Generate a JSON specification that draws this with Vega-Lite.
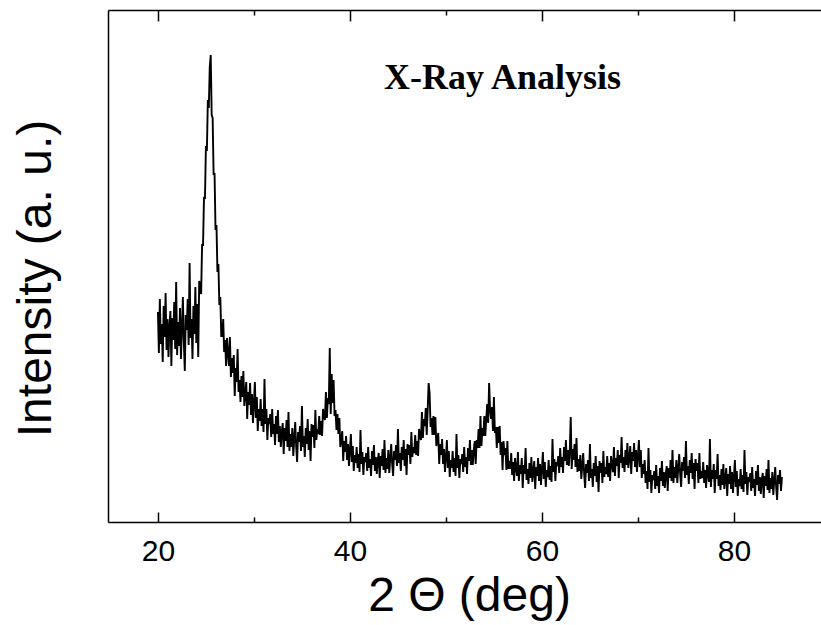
{
"$schema":"https://vega.github.io/schema/vega-lite/v6.json",
"autosize":{"type":"none"},
"padding":{"left":108,"top":10,"right":0,"bottom":103},
"width":713,"height":512,
"background":"white",
"config":{"view":{"stroke":null}},
"datasets":{
"xrd":[
{"x":20.0,"y":210},{"x":20.1,"y":169},{"x":20.2,"y":223},{"x":20.3,"y":178},{"x":20.4,"y":198},{"x":20.5,"y":160},{"x":20.6,"y":216},{"x":20.7,"y":185},{"x":20.8,"y":229},{"x":20.9,"y":172},
{"x":21.0,"y":203},{"x":21.1,"y":165},{"x":21.2,"y":195},{"x":21.3,"y":211},{"x":21.4,"y":156},{"x":21.5,"y":204},{"x":21.6,"y":182},{"x":21.7,"y":220},{"x":21.8,"y":173},{"x":21.9,"y":240},
{"x":22.0,"y":167},{"x":22.1,"y":200},{"x":22.2,"y":176},{"x":22.3,"y":214},{"x":22.4,"y":163},{"x":22.5,"y":194},{"x":22.6,"y":225},{"x":22.7,"y":180},{"x":22.8,"y":151},{"x":22.9,"y":207},
{"x":23.0,"y":192},{"x":23.1,"y":223},{"x":23.2,"y":177},{"x":23.3,"y":259},{"x":23.4,"y":184},{"x":23.5,"y":203},{"x":23.6,"y":163},{"x":23.7,"y":216},{"x":23.8,"y":188},{"x":23.9,"y":235},
{"x":24.0,"y":179},{"x":24.1,"y":218},{"x":24.2,"y":165},{"x":24.3,"y":241},{"x":24.4,"y":234},{"x":24.5,"y":228},{"x":24.6,"y":277},{"x":24.7,"y":277},{"x":24.8,"y":325},{"x":24.9,"y":323},
{"x":25.0,"y":376},{"x":25.1,"y":371},{"x":25.2,"y":422},{"x":25.3,"y":414},{"x":25.4,"y":455},{"x":25.5,"y":467},{"x":25.6,"y":407},{"x":25.7,"y":404},{"x":25.8,"y":348},{"x":25.9,"y":348},
{"x":26.0,"y":292},{"x":26.1,"y":297},{"x":26.2,"y":250},{"x":26.3,"y":258},{"x":26.4,"y":217},{"x":26.5,"y":225},{"x":26.6,"y":186},{"x":26.7,"y":186},{"x":26.8,"y":203},{"x":26.9,"y":170},
{"x":27.0,"y":182},{"x":27.1,"y":156},{"x":27.2,"y":184},{"x":27.3,"y":169},{"x":27.4,"y":156},{"x":27.5,"y":185},{"x":27.6,"y":145},{"x":27.7,"y":164},{"x":27.8,"y":149},{"x":27.9,"y":167},
{"x":28.0,"y":126},{"x":28.1,"y":154},{"x":28.2,"y":140},{"x":28.3,"y":173},{"x":28.4,"y":130},{"x":28.5,"y":142},{"x":28.6,"y":120},{"x":28.7,"y":146},{"x":28.8,"y":125},{"x":28.9,"y":151},
{"x":29.0,"y":116},{"x":29.1,"y":128},{"x":29.2,"y":140},{"x":29.3,"y":103},{"x":29.4,"y":130},{"x":29.5,"y":117},{"x":29.6,"y":139},{"x":29.7,"y":107},{"x":29.8,"y":128},{"x":29.9,"y":99},
{"x":30.0,"y":119},{"x":30.1,"y":140},{"x":30.2,"y":104},{"x":30.3,"y":125},{"x":30.4,"y":91},{"x":30.5,"y":113},{"x":30.6,"y":101},{"x":30.7,"y":123},{"x":30.8,"y":96},{"x":30.9,"y":113},
{"x":31.0,"y":90},{"x":31.1,"y":143},{"x":31.2,"y":98},{"x":31.3,"y":113},{"x":31.4,"y":82},{"x":31.5,"y":104},{"x":31.6,"y":98},{"x":31.7,"y":108},{"x":31.8,"y":85},{"x":31.9,"y":113},
{"x":32.0,"y":88},{"x":32.1,"y":98},{"x":32.2,"y":77},{"x":32.3,"y":106},{"x":32.4,"y":88},{"x":32.5,"y":112},{"x":32.6,"y":80},{"x":32.7,"y":96},{"x":32.8,"y":75},{"x":32.9,"y":91},
{"x":33.0,"y":99},{"x":33.1,"y":68},{"x":33.2,"y":94},{"x":33.3,"y":81},{"x":33.4,"y":102},{"x":33.5,"y":75},{"x":33.6,"y":110},{"x":33.7,"y":71},{"x":33.8,"y":88},{"x":33.9,"y":75},
{"x":34.0,"y":94},{"x":34.1,"y":66},{"x":34.2,"y":83},{"x":34.3,"y":100},{"x":34.4,"y":76},{"x":34.5,"y":60},{"x":34.6,"y":90},{"x":34.7,"y":80},{"x":34.8,"y":96},{"x":34.9,"y":71},
{"x":35.0,"y":116},{"x":35.1,"y":75},{"x":35.2,"y":86},{"x":35.3,"y":65},{"x":35.4,"y":94},{"x":35.5,"y":78},{"x":35.6,"y":103},{"x":35.7,"y":72},{"x":35.8,"y":91},{"x":35.9,"y":61},
{"x":36.0,"y":98},{"x":36.1,"y":85},{"x":36.2,"y":97},{"x":36.3,"y":74},{"x":36.4,"y":112},{"x":36.5,"y":82},{"x":36.6,"y":93},{"x":36.7,"y":88},{"x":36.8,"y":106},{"x":36.9,"y":87},
{"x":37.0,"y":101},{"x":37.1,"y":86},{"x":37.2,"y":113},{"x":37.3,"y":107},{"x":37.4,"y":102},{"x":37.5,"y":130},{"x":37.6,"y":104},{"x":37.7,"y":124},{"x":37.8,"y":118},{"x":37.9,"y":174},
{"x":38.0,"y":108},{"x":38.1,"y":148},{"x":38.2,"y":119},{"x":38.3,"y":142},{"x":38.4,"y":106},{"x":38.5,"y":112},{"x":38.6,"y":92},{"x":38.7,"y":108},{"x":38.8,"y":88},{"x":38.9,"y":104},
{"x":39.0,"y":75},{"x":39.1,"y":82},{"x":39.2,"y":91},{"x":39.3,"y":61},{"x":39.4,"y":81},{"x":39.5,"y":70},{"x":39.6,"y":86},{"x":39.7,"y":62},{"x":39.8,"y":78},{"x":39.9,"y":56},
{"x":40.0,"y":72},{"x":40.1,"y":88},{"x":40.2,"y":60},{"x":40.3,"y":76},{"x":40.4,"y":51},{"x":40.5,"y":67},{"x":40.6,"y":59},{"x":40.7,"y":75},{"x":40.8,"y":54},{"x":40.9,"y":68},
{"x":41.0,"y":50},{"x":41.1,"y":92},{"x":41.2,"y":58},{"x":41.3,"y":70},{"x":41.4,"y":47},{"x":41.5,"y":65},{"x":41.6,"y":60},{"x":41.7,"y":69},{"x":41.8,"y":51},{"x":41.9,"y":75},
{"x":42.0,"y":54},{"x":42.1,"y":63},{"x":42.2,"y":46},{"x":42.3,"y":71},{"x":42.4,"y":57},{"x":42.5,"y":77},{"x":42.6,"y":51},{"x":42.7,"y":65},{"x":42.8,"y":48},{"x":42.9,"y":62},
{"x":43.0,"y":69},{"x":43.1,"y":44},{"x":43.2,"y":66},{"x":43.3,"y":56},{"x":43.4,"y":73},{"x":43.5,"y":52},{"x":43.6,"y":82},{"x":43.7,"y":49},{"x":43.8,"y":64},{"x":43.9,"y":53},
{"x":44.0,"y":72},{"x":44.1,"y":49},{"x":44.2,"y":64},{"x":44.3,"y":78},{"x":44.4,"y":58},{"x":44.5,"y":46},{"x":44.6,"y":71},{"x":44.7,"y":62},{"x":44.8,"y":77},{"x":44.9,"y":56},
{"x":45.0,"y":93},{"x":45.1,"y":59},{"x":45.2,"y":69},{"x":45.3,"y":51},{"x":45.4,"y":75},{"x":45.5,"y":62},{"x":45.6,"y":82},{"x":45.7,"y":56},{"x":45.8,"y":73},{"x":45.9,"y":47},
{"x":46.0,"y":78},{"x":46.1,"y":67},{"x":46.2,"y":77},{"x":46.3,"y":58},{"x":46.4,"y":90},{"x":46.5,"y":65},{"x":46.6,"y":75},{"x":46.7,"y":69},{"x":46.8,"y":87},{"x":46.9,"y":67},
{"x":47.0,"y":81},{"x":47.1,"y":66},{"x":47.2,"y":93},{"x":47.3,"y":87},{"x":47.4,"y":82},{"x":47.5,"y":110},{"x":47.6,"y":84},{"x":47.7,"y":103},{"x":47.8,"y":96},{"x":47.9,"y":114},
{"x":48.0,"y":87},{"x":48.1,"y":112},{"x":48.2,"y":139},{"x":48.3,"y":129},{"x":48.4,"y":95},{"x":48.5,"y":104},{"x":48.6,"y":87},{"x":48.7,"y":106},{"x":48.8,"y":87},{"x":48.9,"y":105},
{"x":49.0,"y":76},{"x":49.1,"y":82},{"x":49.2,"y":89},{"x":49.3,"y":58},{"x":49.4,"y":78},{"x":49.5,"y":67},{"x":49.6,"y":83},{"x":49.7,"y":58},{"x":49.8,"y":73},{"x":49.9,"y":50},
{"x":50.0,"y":65},{"x":50.1,"y":82},{"x":50.2,"y":54},{"x":50.3,"y":71},{"x":50.4,"y":45},{"x":50.5,"y":62},{"x":50.6,"y":54},{"x":50.7,"y":71},{"x":50.8,"y":50},{"x":50.9,"y":64},
{"x":51.0,"y":46},{"x":51.1,"y":88},{"x":51.2,"y":54},{"x":51.3,"y":67},{"x":51.4,"y":44},{"x":51.5,"y":63},{"x":51.6,"y":58},{"x":51.7,"y":68},{"x":51.8,"y":50},{"x":51.9,"y":75},
{"x":52.0,"y":55},{"x":52.1,"y":65},{"x":52.2,"y":48},{"x":52.3,"y":74},{"x":52.4,"y":61},{"x":52.5,"y":82},{"x":52.6,"y":57},{"x":52.7,"y":72},{"x":52.8,"y":57},{"x":52.9,"y":72},
{"x":53.0,"y":81},{"x":53.1,"y":58},{"x":53.2,"y":82},{"x":53.3,"y":74},{"x":53.4,"y":93},{"x":53.5,"y":74},{"x":53.6,"y":106},{"x":53.7,"y":76},{"x":53.8,"y":94},{"x":53.9,"y":86},
{"x":54.0,"y":106},{"x":54.1,"y":86},{"x":54.2,"y":103},{"x":54.3,"y":118},{"x":54.4,"y":99},{"x":54.5,"y":139},{"x":54.6,"y":112},{"x":54.7,"y":103},{"x":54.8,"y":115},{"x":54.9,"y":91},
{"x":55.0,"y":125},{"x":55.1,"y":89},{"x":55.2,"y":95},{"x":55.3,"y":74},{"x":55.4,"y":95},{"x":55.5,"y":79},{"x":55.6,"y":96},{"x":55.7,"y":67},{"x":55.8,"y":80},{"x":55.9,"y":52},
{"x":56.0,"y":81},{"x":56.1,"y":67},{"x":56.2,"y":74},{"x":56.3,"y":52},{"x":56.4,"y":81},{"x":56.5,"y":53},{"x":56.6,"y":61},{"x":56.7,"y":53},{"x":56.8,"y":69},{"x":56.9,"y":47},
{"x":57.0,"y":60},{"x":57.1,"y":41},{"x":57.2,"y":64},{"x":57.3,"y":54},{"x":57.4,"y":46},{"x":57.5,"y":70},{"x":57.6,"y":41},{"x":57.7,"y":57},{"x":57.8,"y":48},{"x":57.9,"y":64},
{"x":58.0,"y":34},{"x":58.1,"y":57},{"x":58.2,"y":48},{"x":58.3,"y":74},{"x":58.4,"y":42},{"x":58.5,"y":53},{"x":58.6,"y":38},{"x":58.7,"y":59},{"x":58.8,"y":44},{"x":58.9,"y":65},
{"x":59.0,"y":40},{"x":59.1,"y":50},{"x":59.2,"y":61},{"x":59.3,"y":33},{"x":59.4,"y":55},{"x":59.5,"y":46},{"x":59.6,"y":64},{"x":59.7,"y":41},{"x":59.8,"y":58},{"x":59.9,"y":37},
{"x":60.0,"y":53},{"x":60.1,"y":70},{"x":60.2,"y":43},{"x":60.3,"y":60},{"x":60.4,"y":35},{"x":60.5,"y":52},{"x":60.6,"y":45},{"x":60.7,"y":62},{"x":60.8,"y":42},{"x":60.9,"y":56},
{"x":61.0,"y":40},{"x":61.1,"y":83},{"x":61.2,"y":50},{"x":61.3,"y":63},{"x":61.4,"y":41},{"x":61.5,"y":60},{"x":61.6,"y":56},{"x":61.7,"y":66},{"x":61.8,"y":49},{"x":61.9,"y":74},
{"x":62.0,"y":55},{"x":62.1,"y":65},{"x":62.2,"y":49},{"x":62.3,"y":75},{"x":62.4,"y":61},{"x":62.5,"y":82},{"x":62.6,"y":57},{"x":62.7,"y":72},{"x":62.8,"y":56},{"x":62.9,"y":71},
{"x":63.0,"y":105},{"x":63.1,"y":53},{"x":63.2,"y":73},{"x":63.3,"y":62},{"x":63.4,"y":78},{"x":63.5,"y":55},{"x":63.6,"y":84},{"x":63.7,"y":50},{"x":63.8,"y":63},{"x":63.9,"y":51},
{"x":64.0,"y":67},{"x":64.1,"y":43},{"x":64.2,"y":56},{"x":64.3,"y":69},{"x":64.4,"y":48},{"x":64.5,"y":34},{"x":64.6,"y":58},{"x":64.7,"y":49},{"x":64.8,"y":62},{"x":64.9,"y":41},
{"x":65.0,"y":78},{"x":65.1,"y":44},{"x":65.2,"y":53},{"x":65.3,"y":35},{"x":65.4,"y":59},{"x":65.5,"y":46},{"x":65.6,"y":66},{"x":65.7,"y":40},{"x":65.8,"y":56},{"x":65.9,"y":30},
{"x":66.0,"y":61},{"x":66.1,"y":49},{"x":66.2,"y":59},{"x":66.3,"y":39},{"x":66.4,"y":71},{"x":66.5,"y":45},{"x":66.6,"y":55},{"x":66.7,"y":48},{"x":66.8,"y":66},{"x":66.9,"y":45},
{"x":67.0,"y":59},{"x":67.1,"y":41},{"x":67.2,"y":66},{"x":67.3,"y":57},{"x":67.4,"y":50},{"x":67.5,"y":75},{"x":67.6,"y":46},{"x":67.7,"y":64},{"x":67.8,"y":56},{"x":67.9,"y":72},
{"x":68.0,"y":44},{"x":68.1,"y":67},{"x":68.2,"y":59},{"x":68.3,"y":85},{"x":68.4,"y":54},{"x":68.5,"y":65},{"x":68.6,"y":50},{"x":68.7,"y":72},{"x":68.8,"y":57},{"x":68.9,"y":79},
{"x":69.0,"y":54},{"x":69.1,"y":64},{"x":69.2,"y":76},{"x":69.3,"y":48},{"x":69.4,"y":70},{"x":69.5,"y":61},{"x":69.6,"y":79},{"x":69.7,"y":55},{"x":69.8,"y":72},{"x":69.9,"y":50},
{"x":70.0,"y":66},{"x":70.1,"y":82},{"x":70.2,"y":55},{"x":70.3,"y":72},{"x":70.4,"y":44},{"x":70.5,"y":58},{"x":70.6,"y":48},{"x":70.7,"y":62},{"x":70.8,"y":39},{"x":70.9,"y":51},
{"x":71.0,"y":33},{"x":71.1,"y":74},{"x":71.2,"y":40},{"x":71.3,"y":52},{"x":71.4,"y":29},{"x":71.5,"y":47},{"x":71.6,"y":42},{"x":71.7,"y":51},{"x":71.8,"y":33},{"x":71.9,"y":57},
{"x":72.0,"y":36},{"x":72.1,"y":46},{"x":72.2,"y":29},{"x":72.3,"y":54},{"x":72.4,"y":41},{"x":72.5,"y":61},{"x":72.6,"y":36},{"x":72.7,"y":50},{"x":72.8,"y":34},{"x":72.9,"y":48},
{"x":73.0,"y":56},{"x":73.1,"y":31},{"x":73.2,"y":54},{"x":73.3,"y":44},{"x":73.4,"y":62},{"x":73.5,"y":41},{"x":73.6,"y":72},{"x":73.7,"y":39},{"x":73.8,"y":55},{"x":73.9,"y":44},
{"x":74.0,"y":62},{"x":74.1,"y":39},{"x":74.2,"y":54},{"x":74.3,"y":68},{"x":74.4,"y":48},{"x":74.5,"y":35},{"x":74.6,"y":60},{"x":74.7,"y":51},{"x":74.8,"y":65},{"x":74.9,"y":44},
{"x":75.0,"y":81},{"x":75.1,"y":47},{"x":75.2,"y":56},{"x":75.3,"y":38},{"x":75.4,"y":62},{"x":75.5,"y":49},{"x":75.6,"y":69},{"x":75.7,"y":43},{"x":75.8,"y":59},{"x":75.9,"y":33},
{"x":76.0,"y":63},{"x":76.1,"y":51},{"x":76.2,"y":59},{"x":76.3,"y":39},{"x":76.4,"y":69},{"x":76.5,"y":43},{"x":76.6,"y":51},{"x":76.7,"y":44},{"x":76.8,"y":60},{"x":76.9,"y":39},
{"x":77.0,"y":52},{"x":77.1,"y":34},{"x":77.2,"y":57},{"x":77.3,"y":48},{"x":77.4,"y":40},{"x":77.5,"y":83},{"x":77.6,"y":35},{"x":77.7,"y":52},{"x":77.8,"y":43},{"x":77.9,"y":58},
{"x":78.0,"y":29},{"x":78.1,"y":52},{"x":78.2,"y":43},{"x":78.3,"y":68},{"x":78.4,"y":36},{"x":78.5,"y":47},{"x":78.6,"y":32},{"x":78.7,"y":53},{"x":78.8,"y":37},{"x":78.9,"y":58},
{"x":79.0,"y":33},{"x":79.1,"y":43},{"x":79.2,"y":54},{"x":79.3,"y":26},{"x":79.4,"y":48},{"x":79.5,"y":38},{"x":79.6,"y":56},{"x":79.7,"y":33},{"x":79.8,"y":50},{"x":79.9,"y":29},
{"x":80.0,"y":45},{"x":80.1,"y":62},{"x":80.2,"y":35},{"x":80.3,"y":51},{"x":80.4,"y":26},{"x":80.5,"y":43},{"x":80.6,"y":36},{"x":80.7,"y":53},{"x":80.8,"y":33},{"x":80.9,"y":47},
{"x":81.0,"y":30},{"x":81.1,"y":72},{"x":81.2,"y":38},{"x":81.3,"y":50},{"x":81.4,"y":27},{"x":81.5,"y":45},{"x":81.6,"y":40},{"x":81.7,"y":49},{"x":81.8,"y":31},{"x":81.9,"y":55},
{"x":82.0,"y":34},{"x":82.1,"y":43},{"x":82.2,"y":26},{"x":82.3,"y":51},{"x":82.4,"y":37},{"x":82.5,"y":57},{"x":82.6,"y":31},{"x":82.7,"y":45},{"x":82.8,"y":28},{"x":82.9,"y":42},
{"x":83.0,"y":49},{"x":83.1,"y":24},{"x":83.2,"y":46},{"x":83.3,"y":36},{"x":83.4,"y":53},{"x":83.5,"y":32},{"x":83.6,"y":62},{"x":83.7,"y":29},{"x":83.8,"y":44},{"x":83.9,"y":33},
{"x":84.0,"y":50},{"x":84.1,"y":27},{"x":84.2,"y":41},{"x":84.3,"y":55},{"x":84.4,"y":35},{"x":84.5,"y":22},{"x":84.6,"y":47},{"x":84.7,"y":38},{"x":84.8,"y":52},{"x":84.9,"y":31},
{"x":85.0,"y":45}
],
"anchor":[{"x":20}]
},
"layer":[
{
"data":{"name":"xrd"},
"mark":{"type":"line","color":"#000000","strokeWidth":1.9,"clip":true},
"encoding":{
"x":{"field":"x","type":"quantitative","scale":{"domain":[14.8,89.07],"nice":false,"zero":false},
"axis":{"orient":"bottom","values":[20,40,60,80],"grid":false,
"domain":true,"domainColor":"#000000","domainWidth":1.5,"ticks":true,"tickColor":"#000000","tickWidth":1.5,"tickSize":-10,
"labelFont":"Liberation Sans","labelFontSize":30,"labelColor":"#000000","labelBaseline":"alphabetic","labelPadding":48,"labelFlush":false,"labelOverlap":false,
"title":"2 Θ (deg)","titleFont":"Liberation Sans","titleFontSize":48,"titleFontWeight":"normal","titleColor":"#000000","titleBaseline":"alphabetic","titleAlign":"center","titleX":361,"titleY":88}},
"y":{"field":"y","type":"quantitative","scale":{"domain":[0,512],"nice":false,"zero":false},
"axis":{"orient":"left","ticks":false,"labels":false,"grid":false,"domain":true,"domainColor":"#000000","domainWidth":1.5,
"title":"Intensity (a. u.)","titleFont":"Liberation Sans","titleFontSize":48,"titleFontWeight":"normal","titleColor":"#000000","titleAngle":270,"titleBaseline":"alphabetic","titleAlign":"center","titleX":-58,"titleY":268}}
}
},
{
"data":{"values":[{"x":55.9,"y":433,"label":"X-Ray Analysis"}]},
"mark":{"type":"text","font":"Liberation Serif","fontWeight":"bold","fontSize":36,"color":"#000000","align":"center","baseline":"alphabetic"},
"encoding":{
"x":{"field":"x","type":"quantitative","axis":null},
"y":{"field":"y","type":"quantitative",
"axis":{"orient":"left","ticks":false,"labels":false,"grid":false,"domain":true,"domainColor":"#000000","domainWidth":1.5,
"title":"Intensity (a. u.)","titleFont":"Liberation Sans","titleFontSize":48,"titleFontWeight":"normal","titleColor":"#000000","titleAngle":270,"titleBaseline":"alphabetic","titleAlign":"center","titleX":-58,"titleY":268}},
"text":{"field":"label"}
}
},
{
"data":{"name":"anchor"},
"mark":{"type":"rule","opacity":0},
"encoding":{
"x":{"field":"x","type":"quantitative","axis":{"orient":"bottom","values":[30,50,70],"labels":false,"title":null,"grid":false,
"domain":false,"ticks":true,"tickColor":"#000000","tickWidth":1.5,"tickSize":-5}}
}
},
{
"data":{"name":"anchor"},
"mark":{"type":"rule","opacity":0},
"encoding":{
"x":{"field":"x","type":"quantitative","axis":{"orient":"top","values":[20,40,60,80],"labels":false,"title":null,"grid":false,
"domain":true,"domainColor":"#000000","domainWidth":1.5,"ticks":true,"tickColor":"#000000","tickWidth":1.5,"tickSize":-11}}
}
},
{
"data":{"name":"anchor"},
"mark":{"type":"rule","opacity":0},
"encoding":{
"x":{"field":"x","type":"quantitative","axis":{"orient":"top","values":[30,50,70],"labels":false,"title":null,"grid":false,
"domain":false,"ticks":true,"tickColor":"#000000","tickWidth":1.5,"tickSize":-5}}
}
}
],
"resolve":{"axis":{"x":"independent"}}
}
